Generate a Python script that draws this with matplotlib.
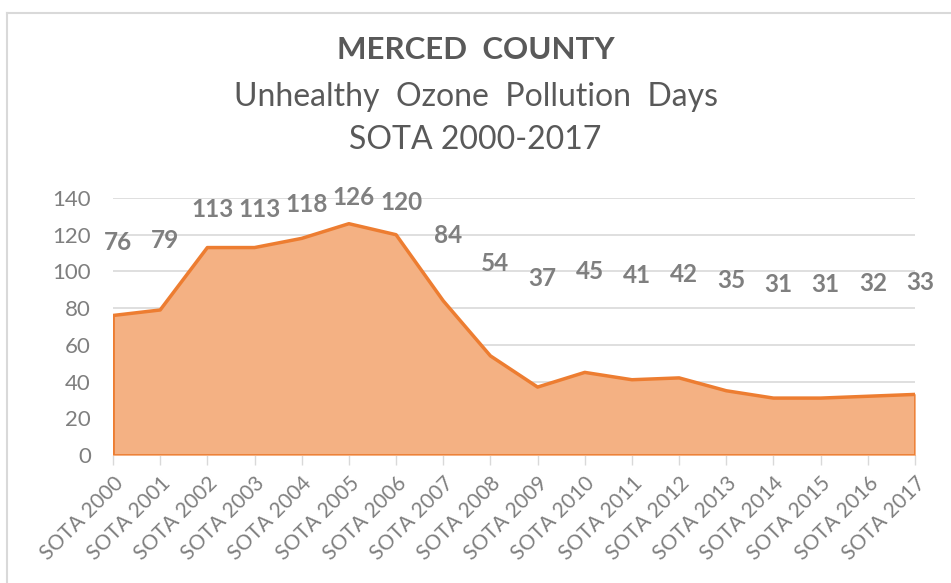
import matplotlib
matplotlib.use("Agg")
import matplotlib.pyplot as plt
import matplotlib.transforms as mtransforms
from matplotlib.lines import Line2D

plt.rcParams['font.family'] = ['Lato', 'DejaVu Sans']

years = ["SOTA 2000", "SOTA 2001", "SOTA 2002", "SOTA 2003", "SOTA 2004", "SOTA 2005",
         "SOTA 2006", "SOTA 2007", "SOTA 2008", "SOTA 2009", "SOTA 2010", "SOTA 2011",
         "SOTA 2012", "SOTA 2013", "SOTA 2014", "SOTA 2015", "SOTA 2016", "SOTA 2017"]
days = [76, 79, 113, 113, 118, 126, 120, 84, 54, 37, 45, 41, 42, 35, 31, 31, 32, 33]
yticks = [0, 20, 40, 60, 80, 100, 120, 140]

fill_col = "#F4B183"
line_col = "#ED7D31"
grey = "#7F7F7F"

fig = plt.figure(figsize=(9.51, 5.83), dpi=100)
ax = fig.add_axes([113/951, 1-455/583, (915-113)/951, (455-198)/583])

x = list(range(len(days)))
ax.fill_between(x, days, 0, color=fill_col, zorder=2)
ax.plot(x, days, color=line_col, lw=2.5, zorder=3)
ax.plot([0, 0], [0, days[0]], color=line_col, lw=2, zorder=3)
ax.plot([x[-1], x[-1]], [0, days[-1]], color=line_col, lw=2, zorder=3)
ax.plot([0, x[-1]], [0, 0], color=line_col, lw=2, zorder=3)

ax.set_xlim(0, len(days)-1)
ax.set_ylim(0, 140)
ax.set_yticks(yticks)
ax.yaxis.grid(True, color="#D9D9D9", lw=1.2, zorder=0)
ax.set_axisbelow(True)
for s in ax.spines.values():
    s.set_visible(False)
ax.tick_params(axis='y', length=0, pad=16, labelsize=16, labelcolor=grey)
ax.set_xticks(x)
ax.set_xticklabels(years, rotation=45, ha='right', va='top', rotation_mode='anchor',
                   fontsize=15, color=grey)
ax.tick_params(axis='x', length=7, width=1, color="#D9D9D9", pad=6, direction='out')

# data labels (Excel places them between the value and the top)
off = mtransforms.offset_copy(ax.transData, fig=fig, x=5, y=0, units='dots')
for xi, v in zip(x, days):
    ax.text(xi, 77.5 + v/2, str(v), transform=off, ha='center', va='center',
            fontsize=17.5, fontweight='bold', color=grey, zorder=5, clip_on=False)

fig.text(0.5, 1-50/583, "MERCED  COUNTY", ha='center', va='center', fontsize=22.5,
         fontweight='bold', color="#595959")
fig.text(0.5, 1-97/583, "Unhealthy  Ozone  Pollution  Days", ha='center', va='center',
         fontsize=23, color="#595959")
fig.text(0.5, 1-140/583, "SOTA 2000-2017", ha='center', va='center', fontsize=23,
         color="#595959")

# chart frame
fig.add_artist(Line2D([7/951, 1], [1-13/583, 1-13/583], color="#D9D9D9", lw=1.5))
fig.add_artist(Line2D([7/951, 7/951], [0, 1-13/583], color="#D9D9D9", lw=1.5))

fig.savefig("out.png", dpi=100)
